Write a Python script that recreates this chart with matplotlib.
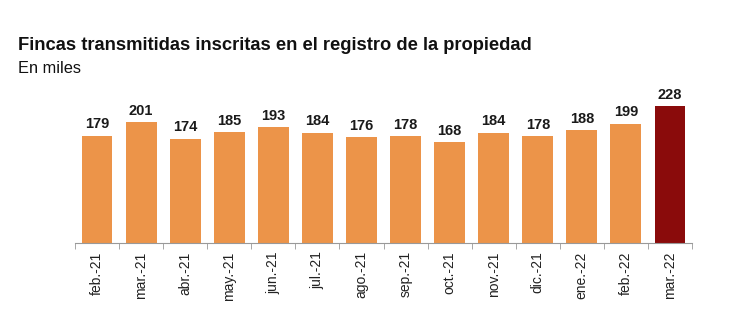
import numpy as np
import matplotlib.pyplot as plt

# Fincas transmitidas inscritas, en miles
meses = ["feb.-21", "mar.-21", "abr.-21", "may.-21", "jun.-21", "jul.-21", "ago.-21",
         "sep.-21", "oct.-21", "nov.-21", "dic.-21", "ene.-22", "feb.-22", "mar.-22"]
fincas = [179, 201, 174, 185, 193, 184, 176, 178, 168, 184, 178, 188, 199, 228]

plt.rcParams['font.family'] = ['Liberation Sans', 'DejaVu Sans']

fig = plt.figure(figsize=(7.5, 3.32), dpi=100)
ax = fig.add_axes([0.1, 0.268, 0.8227, 0.452])

x = np.arange(len(meses))
colores = ["#EC9449"] * (len(meses) - 1) + ["#8A0B0B"]
bars = ax.bar(x, fincas, width=0.7, color=colores)

for xi, v in zip(x, fincas):
    ax.text(xi, v + 7, str(v), ha="center", va="bottom", fontsize=10.5,
            fontweight="bold", color="#1a1a1a")

ax.set_xlim(-0.5, len(meses) - 0.5)
ax.set_ylim(0, 250)
ax.set_xticks(x)
ax.set_xticklabels(meses, rotation=90, fontsize=10, color="#222222")
ax.tick_params(axis="x", which="major", length=0, pad=6)
ax.set_xticks(np.arange(-0.5, len(meses), 1), minor=True)
ax.tick_params(axis="x", which="minor", length=4, color="#999999")
ax.set_yticks([])

for s in ["top", "right", "left"]:
    ax.spines[s].set_visible(False)
ax.spines["bottom"].set_color("#999999")

fig.text(0.024, 0.862, "Fincas transmitidas inscritas en el registro de la propiedad",
         fontsize=13.2, fontweight="bold", color="#111111", va="center")
fig.text(0.024, 0.795, "En miles", fontsize=11.8, color="#111111", va="center")

fig.savefig("out.png", dpi=100)
